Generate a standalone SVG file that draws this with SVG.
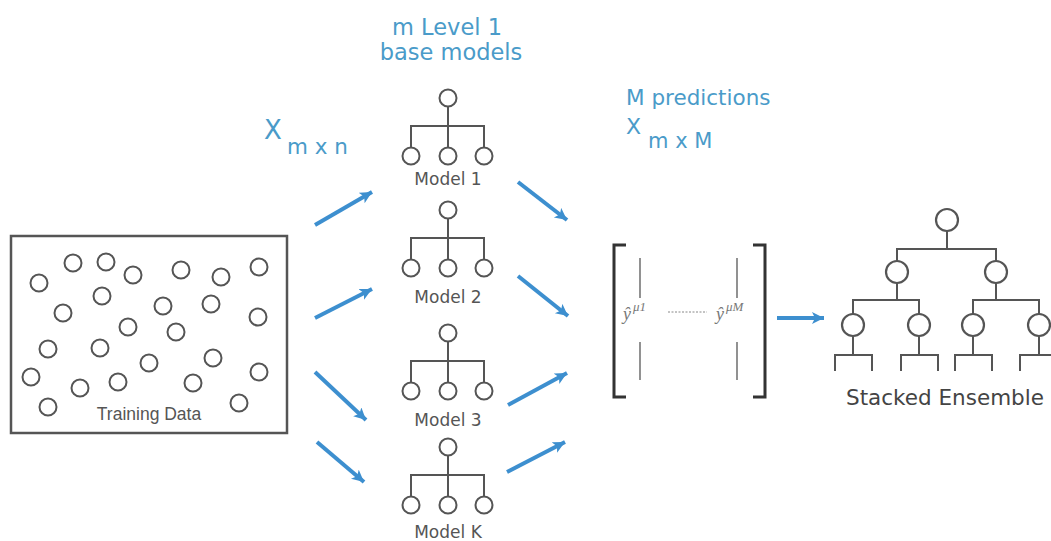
<svg xmlns="http://www.w3.org/2000/svg" width="1051" height="541" viewBox="0 0 1051 541">
<style>
.ln{stroke:#555;stroke-width:2;fill:none}
.c{stroke:#555;stroke-width:2;fill:#fff}
.ce{stroke:#555;stroke-width:2.2;fill:#fff}
.blue{font-family:"DejaVu Sans",sans-serif;fill:#4a9bc9}
.mlab{font-family:"DejaVu Sans",sans-serif;font-size:17px;fill:#555;text-anchor:middle}
.arr{stroke:#3d8fcf;stroke-width:4;fill:none;marker-end:url(#ah)}
.br{stroke:#333;stroke-width:3;fill:none}
.col{stroke:#777;stroke-width:1.6;fill:none}
.yh{font-family:"Liberation Serif",serif;font-style:italic;fill:#777}
</style>
<defs>
<marker id="ah" markerUnits="userSpaceOnUse" markerWidth="14" markerHeight="14" refX="12" refY="6" orient="auto">
<path d="M0,0 L12,6 L0,12 L3,6 Z" fill="#3d8fcf"/>
</marker>
<g id="tree">
<circle class="c" cx="0" cy="0" r="8.5"/>
<path class="ln" d="M0,8.5 V28 M-37,49.5 V28 H36 V49.5 M0,28 V49.5"/>
<circle class="c" cx="-37" cy="58" r="8.5"/>
<circle class="c" cx="0" cy="58" r="8.5"/>
<circle class="c" cx="36" cy="58" r="8.5"/>
</g>
</defs>
<rect width="1051" height="541" fill="#fff"/>

<g id="labels">
<text class="blue" x="447" y="35" font-size="22.5" text-anchor="middle">m Level 1</text>
<text class="blue" x="451" y="60" font-size="22.5" text-anchor="middle">base models</text>
<text class="blue" x="264" y="139" font-size="26">X</text>
<text class="blue" x="287" y="154" font-size="21.5">m x n</text>
<text class="blue" x="626" y="105" font-size="21.5">M predictions</text>
<text class="blue" x="626" y="134" font-size="22">X</text>
<text class="blue" x="648" y="148" font-size="21">m x M</text>
</g>

<g id="training-data">
<rect x="11" y="236" width="276" height="197" fill="#fff" stroke="#555" stroke-width="2.5"/>
<g class="c">
<circle cx="39" cy="283" r="8.5"/><circle cx="73" cy="263" r="8.5"/><circle cx="106" cy="262" r="8.5"/>
<circle cx="133" cy="275" r="8.5"/><circle cx="181" cy="270" r="8.5"/><circle cx="221" cy="277" r="8.5"/>
<circle cx="259" cy="267" r="8.5"/><circle cx="63" cy="313" r="8.5"/><circle cx="102" cy="296" r="8.5"/>
<circle cx="163" cy="306" r="8.5"/><circle cx="211" cy="304" r="8.5"/><circle cx="258" cy="317" r="8.5"/>
<circle cx="128" cy="327" r="8.5"/><circle cx="176" cy="332" r="8.5"/><circle cx="48" cy="349" r="8.5"/>
<circle cx="100" cy="348" r="8.5"/><circle cx="149" cy="363" r="8.5"/><circle cx="213" cy="358" r="8.5"/>
<circle cx="31" cy="377" r="8.5"/><circle cx="80" cy="388" r="8.5"/><circle cx="118" cy="382" r="8.5"/>
<circle cx="193" cy="383" r="8.5"/><circle cx="259" cy="372" r="8.5"/><circle cx="48" cy="407" r="8.5"/>
<circle cx="239" cy="403" r="8.5"/>
</g>
<text x="149" y="420" font-family="Liberation Sans, sans-serif" font-size="17.5" fill="#555" text-anchor="middle">Training Data</text>
</g>

<g id="model-1">
<use href="#tree" x="448" y="98"/>
<text class="mlab" x="448" y="185">Model 1</text>
</g>
<g id="model-2">
<use href="#tree" x="448" y="210"/>
<text class="mlab" x="448" y="303">Model 2</text>
</g>
<g id="model-3">
<use href="#tree" x="448" y="333"/>
<text class="mlab" x="448" y="426">Model 3</text>
</g>
<g id="model-k">
<use href="#tree" x="448" y="447"/>
<text class="mlab" x="448" y="538">Model K</text>
</g>

<g id="predictions-matrix">
<path class="br" d="M626,245 H614 V397 H626"/>
<path class="br" d="M753,245 H765 V397 H753"/>
<path class="col" d="M640,258 V298 M640,342 V380 M737,258 V298 M737,342 V380"/>
<text class="yh" x="623" y="320" font-size="18">ŷ</text>
<text class="yh" x="633" y="311" font-size="13">μ1</text>
<path d="M668,312 H707" stroke="#888" stroke-width="1" stroke-dasharray="2,1.5"/>
<text class="yh" x="716" y="320" font-size="18">ŷ</text>
<text class="yh" x="726" y="311" font-size="13">μM</text>
</g>

<g id="stacked-ensemble">
<path class="ln" d="M947,231 V249 M897,261 V249 H996 V261 M897,283 V300 M853,314 V300 H919 V314 M996,283 V300 M973,314 V300 H1039 V314"/>
<circle class="ce" cx="947" cy="220" r="11"/>
<circle class="ce" cx="897" cy="272" r="11"/>
<circle class="ce" cx="996" cy="272" r="11"/>
<circle class="ce" cx="853" cy="325" r="11"/>
<circle class="ce" cx="919" cy="325" r="11"/>
<circle class="ce" cx="973" cy="325" r="11"/>
<circle class="ce" cx="1039" cy="325" r="11"/>
<path class="ln" d="M853,336 V355 M835,371 V355 H872 V371 M919,336 V355 M901,371 V355 H938 V371 M973,336 V355 M955,371 V355 H992 V371 M1039,336 V355 M1020,371 V355 H1058"/>
<text x="945" y="405" font-family="DejaVu Sans, sans-serif" font-size="21.5" fill="#444" text-anchor="middle">Stacked Ensemble</text>
</g>

<g id="connectors">
<path class="arr" d="M315,225 L372,192"/>
<path class="arr" d="M315,318 L372,289"/>
<path class="arr" d="M315,372 L366,420"/>
<path class="arr" d="M317,442 L364,482"/>
<path class="arr" d="M518,182 L567,220"/>
<path class="arr" d="M518,276 L568,316"/>
<path class="arr" d="M508,405 L567,373"/>
<path class="arr" d="M507,472 L565,442"/>
<path class="arr" d="M777,318 L824,318"/>
</g>
</svg>
